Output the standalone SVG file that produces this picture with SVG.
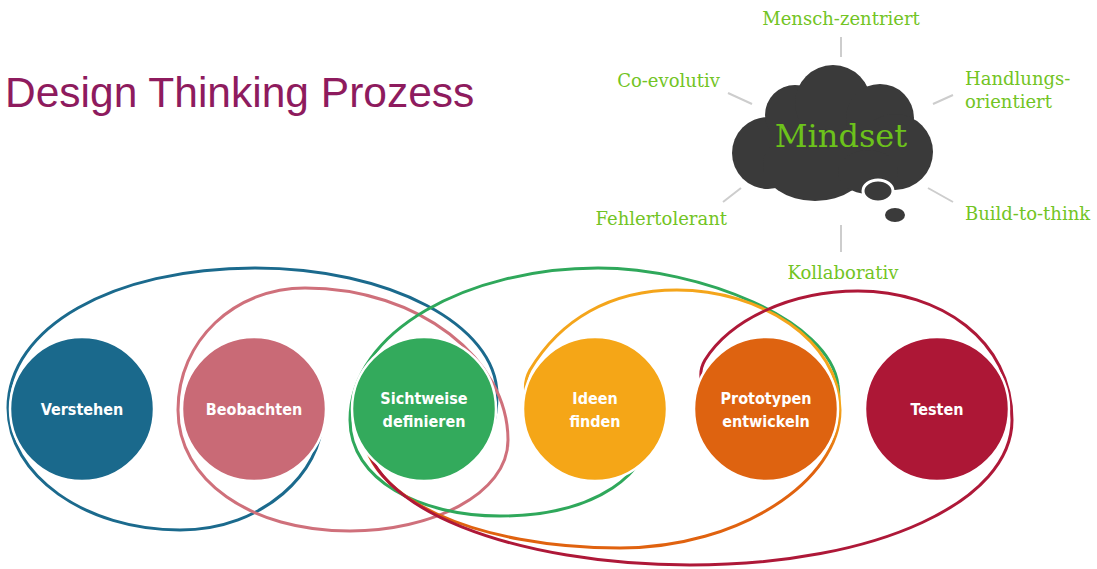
<svg xmlns="http://www.w3.org/2000/svg" width="1097" height="569" viewBox="0 0 1097 569">
  <defs>
    <linearGradient id="gradIdeas" gradientUnits="userSpaceOnUse" x1="0" y1="405" x2="0" y2="470">
      <stop offset="0" stop-color="#F4A51B"/>
      <stop offset="1" stop-color="#E0620F"/>
    </linearGradient>
  </defs>
  <style>
    .title { font-family: "Liberation Sans", Arial, sans-serif; font-size: 42.5px; fill: #8E1B5E; }
    .loop { fill: none; stroke-width: 3; stroke-linecap: round; }
    .phase { stroke: #ffffff; stroke-width: 2.5; }
    .plabel { font-family: "DejaVu Sans Condensed", "DejaVu Sans", sans-serif; font-stretch: condensed; font-weight: bold; font-size: 16px; fill: #ffffff; text-anchor: middle; }
    .cloud { fill: #3A3A3A; }
    .mind { font-family: "DejaVu Serif", "Liberation Serif", serif; font-size: 32px; fill: #6CC21B; text-anchor: middle; }
    .trait { font-family: "DejaVu Serif", "Liberation Serif", serif; font-size: 18px; fill: #72C424; }
    .spoke { stroke: #CDCDCD; stroke-width: 2; }
  </style>

  <rect width="1097" height="569" fill="#ffffff"/>

  <text class="title" x="5" y="107">Design Thinking Prozess</text>

  <!-- phase loops; their ends tuck under the phase circles drawn on top -->
  <g id="connectors">
    <path class="loop" stroke="#1B6A8D" d="M322,420 C322,470 265,530 180,530 C85,530 8,475 8,408 C8,328 112,268 255,268 C389,268 497,325 497,395 C497,420 490,440 480,450"/>
    <path class="loop" stroke="#CF707B" d="M178,410 C178,340 235,288 305,288 C420,288 508,360 508,440 C508,495 430,531 350,531 C250,531 178,480 178,410 Z"/>
    <path class="loop" stroke="#2FA85B" d="M650,430 C650,470 600,516 500,516 C420,516 350,480 350,420 C350,330 470,268 598,268 C700,268 830,320 838,385 C841,405 835,425 820,440"/>
    <path class="loop" stroke="url(#gradIdeas)" d="M362,420 C358,500 480,548 620,548 C740,548 840,480 840,410 C840,340 760,290 677,290 C610,290 560,320 530,370 C522,385 525,400 535,410"/>
    <path class="loop" stroke="#AE1838" d="M364,425 C360,510 520,565 690,565 C880,565 1012,500 1012,420 C1012,340 940,291 858,291 C790,291 730,320 705,360 C698,372 700,385 710,395"/>
  </g>

  <!-- phase circles -->
  <g id="verstehen">
    <circle class="phase" cx="82" cy="409" r="72" fill="#1A698C"/>
    <text class="plabel" x="82" y="415">Verstehen</text>
  </g>
  <g id="beobachten">
    <circle class="phase" cx="254" cy="409" r="72" fill="#C96A76"/>
    <text class="plabel" x="254" y="415">Beobachten</text>
  </g>
  <g id="sichtweise">
    <circle class="phase" cx="424" cy="409" r="72" fill="#33AA5C"/>
    <text class="plabel" x="424" y="404">Sichtweise</text>
    <text class="plabel" x="424" y="427">definieren</text>
  </g>
  <g id="ideen">
    <circle class="phase" cx="595" cy="409" r="72" fill="#F5A617"/>
    <text class="plabel" x="595" y="404">Ideen</text>
    <text class="plabel" x="595" y="427">finden</text>
  </g>
  <g id="prototypen">
    <circle class="phase" cx="766" cy="409" r="72" fill="#DE6310"/>
    <text class="plabel" x="766" y="404">Prototypen</text>
    <text class="plabel" x="766" y="427">entwickeln</text>
  </g>
  <g id="testen">
    <circle class="phase" cx="937" cy="409" r="72" fill="#AD1736"/>
    <text class="plabel" x="937" y="415">Testen</text>
  </g>

  <!-- mindset thought cloud -->
  <g id="mindset">
    <ellipse class="cloud" cx="835" cy="145" rx="72" ry="46"/>
    <circle class="cloud" cx="768" cy="153" r="36"/>
    <circle class="cloud" cx="795" cy="115" r="30"/>
    <circle class="cloud" cx="833" cy="103" r="38"/>
    <circle class="cloud" cx="880" cy="118" r="34"/>
    <circle class="cloud" cx="895" cy="152" r="38"/>
    <ellipse class="cloud" cx="815" cy="165" rx="52" ry="36"/>
    <ellipse class="cloud" cx="868" cy="172" rx="30" ry="22"/>
    <ellipse class="cloud" cx="878" cy="191" rx="15" ry="11" stroke="#ffffff" stroke-width="3"/>
    <ellipse class="cloud" cx="895" cy="215" rx="10" ry="7"/>
    <text class="mind" x="841" y="147">Mindset</text>
  </g>

  <g id="spokes">
    <line class="spoke" x1="841" y1="37" x2="841" y2="57"/>
    <line class="spoke" x1="728" y1="93" x2="752" y2="104"/>
    <line class="spoke" x1="933" y1="104" x2="953" y2="95"/>
    <line class="spoke" x1="723" y1="202" x2="741" y2="188"/>
    <line class="spoke" x1="928" y1="188" x2="953" y2="202"/>
    <line class="spoke" x1="841" y1="225" x2="841" y2="252"/>
  </g>

  <g id="trait-mensch"><text class="trait" x="841" y="25" text-anchor="middle">Mensch-zentriert</text></g>
  <g id="trait-coevolutiv"><text class="trait" x="720" y="87" text-anchor="end">Co-evolutiv</text></g>
  <g id="trait-handlung">
    <text class="trait" x="965" y="85">Handlungs-</text>
    <text class="trait" x="965" y="108">orientiert</text>
  </g>
  <g id="trait-fehler"><text class="trait" x="727" y="225" text-anchor="end">Fehlertolerant</text></g>
  <g id="trait-build"><text class="trait" x="965" y="220">Build-to-think</text></g>
  <g id="trait-kollab"><text class="trait" x="843" y="279" text-anchor="middle">Kollaborativ</text></g>
</svg>
